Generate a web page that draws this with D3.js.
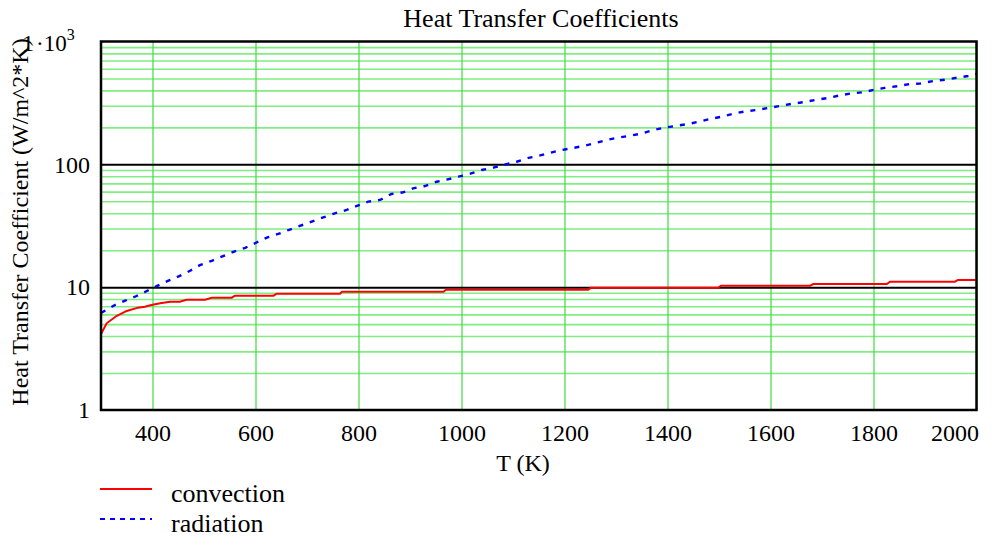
<!DOCTYPE html>
<html>
<head>
<meta charset="utf-8">
<script src="https://cdn.jsdelivr.net/npm/d3@7"></script>
<style>
  body { margin: 0; background: #fff; }
  svg { display: block; }
  svg text { font-family: "Liberation Serif", "Times New Roman", serif; fill: #000; }
</style>
</head>
<body>
<svg id="chart" width="1008" height="539"></svg>
<script>
// Convection coefficient vs temperature (stepped output of the solver)
const convT = [300, 311, 330, 350, 372, 385, 398, 415, 434, 453, 466, 502, 515, 554, 560, 635, 641, 764,
               768, 965, 970, 1246, 1251, 1498, 1504, 1677, 1683, 1826, 1832, 1958, 1964, 2000];
const convH = [4.16, 5.08, 5.82, 6.40, 6.81, 6.93, 7.16, 7.39, 7.62, 7.62, 7.91, 7.91, 8.21, 8.21, 8.52, 8.52, 8.85, 8.85,
               9.19, 9.19, 9.54, 9.54, 9.87, 9.87, 10.28, 10.28, 10.61, 10.61, 11.08, 11.08, 11.44, 11.44];

// Radiation coefficient vs temperature
const radT = [300, 327, 347, 369, 389, 408, 431, 452, 473, 492, 515, 537, 557, 580, 601, 622, 644, 664, 686, 709,
              730, 754, 777, 797, 819, 842, 864, 887, 906, 929, 952, 971, 994, 1017, 1039, 1062, 1084, 1107, 1130,
              1149, 1172, 1195, 1217, 1240, 1263, 1282, 1304, 1327, 1350, 1372, 1395, 1418, 1440, 1460, 1483, 1505,
              1531, 1554, 1573, 1596, 1619, 1644, 1667, 1686, 1709, 1732, 1754, 1779, 1803, 1822, 1845, 1871, 1890,
              1916, 1939, 1962, 1984, 2000];
const radH = [6.16, 7.16, 7.76, 8.47, 9.30, 10.2, 11.3, 12.3, 13.6, 15.1, 16.4, 17.9, 19.4, 20.9, 23.0, 25.3, 27.1,
              29.2, 31.5, 34.1, 36.8, 39.9, 42.5, 45.8, 49.7, 51.3, 57.4, 59.2, 63.8, 66.6, 72.2, 75.0, 79.3, 83.9,
              89.9, 93.9, 99.4, 105, 113, 117, 124, 131, 136, 142, 150, 158, 165, 171, 178, 190, 199, 206, 213, 222,
              234, 244, 260, 271, 277, 288, 299, 312, 322, 334, 345, 362, 376, 386, 406, 419, 432, 451, 454, 477,
              489, 507, 524, 544];

const xTicks = [400, 600, 800, 1000, 1200, 1400, 1600, 1800, 2000];
const yTicks = [1, 10, 100];
const yMajorLines = [10, 100];
const yMinorLines = [2, 3, 4, 5, 6, 7, 8, 9, 20, 30, 40, 50, 60, 70, 80, 90, 200, 300, 400, 500, 600, 700, 800, 900];
const seriesNames = ["convection", "radiation"];

const chartTitle = "Heat Transfer Coefficients";
const xTitle = "T (K)";
const yTitle = "Heat Transfer Coefficient (W/m^2*K)";

const svg = d3.select("#chart");
const L = 101, R = 976.5, T = 41.5, B = 410;

const x = d3.scaleLinear().domain([300, 2000]).range([L, R]);
const y = d3.scaleLog().domain([1, 1000]).range([B, T]);

// strip the default sans-serif that d3 axes put on their groups
const plain = g => g.attr("font-family", null).attr("font-size", null).call(s => s.select(".domain").remove());

// minor horizontal grid
svg.append("g")
  .attr("transform", `translate(${L},0)`)
  .call(d3.axisLeft(y).tickValues(yMinorLines).tickSize(-(R - L)).tickFormat(""))
  .call(plain)
  .call(g => g.selectAll("line").attr("stroke", "#80ee80").attr("stroke-width", 1.6));

// vertical grid
svg.append("g")
  .attr("transform", `translate(0,${B})`)
  .call(d3.axisBottom(x).tickValues(xTicks).tickSize(-(B - T)).tickFormat(""))
  .call(plain)
  .call(g => g.selectAll("line").attr("stroke", "#3fdc3f").attr("stroke-width", 1.2));

// decade lines
svg.append("g")
  .attr("transform", `translate(${L},0)`)
  .call(d3.axisLeft(y).tickValues(yMajorLines).tickSize(-(R - L)).tickFormat(""))
  .call(plain)
  .call(g => g.selectAll("line").attr("stroke", "#000").attr("stroke-width", 2));

// curves
const convPts = convT.map((t, i) => [t, convH[i]]);
const radPts = radT.map((t, i) => [t, radH[i]]);
const line = d3.line().x(d => x(d[0])).y(d => y(d[1]));

svg.append("path").datum(convPts).attr("d", line)
  .attr("fill", "none").attr("stroke", "#ff0000").attr("stroke-width", 2);
svg.append("path").datum(radPts).attr("d", line)
  .attr("fill", "none").attr("stroke", "#0000ff").attr("stroke-width", 2.4)
  .attr("stroke-dasharray", "5,7");

// frame
svg.append("rect").attr("x", L).attr("y", T).attr("width", R - L).attr("height", B - T)
  .attr("fill", "none").attr("stroke", "#000").attr("stroke-width", 2.5);

// x tick labels
svg.append("g")
  .attr("transform", `translate(0,${B})`)
  .call(d3.axisBottom(x).tickValues(xTicks).tickSize(0).tickPadding(0).tickFormat(d3.format("d")))
  .call(plain)
  .call(g => g.selectAll("text")
    .attr("font-size", 24)
    .attr("dy", null).attr("y", 31)
    .attr("text-anchor", d => d === 2000 ? "end" : "middle")
    .attr("dx", d => d === 2000 ? 2 : 0));

// y tick labels
svg.append("g")
  .attr("transform", `translate(${L},0)`)
  .call(d3.axisLeft(y).tickValues(yTicks).tickSize(0).tickPadding(11).tickFormat(d3.format("d")))
  .call(plain)
  .call(g => g.selectAll("text").attr("font-size", 24).attr("dy", "0.32em"));

// top decade label written as 1·10^3
svg.append("text").attr("x", 22).attr("y", y(1000) + 9).attr("font-size", 24).text("1");
const expLabel = svg.append("text")
  .attr("x", 36).attr("y", y(1000) + 9).attr("font-size", 23);
expLabel.append("tspan").text("\u00b710");
expLabel.append("tspan").attr("font-size", 16).attr("dy", -11).text("3");

// titles
svg.append("text").attr("x", 541).attr("y", 27).attr("text-anchor", "middle")
  .attr("font-size", 26).text(chartTitle);
svg.append("text").attr("x", 523).attr("y", 471).attr("text-anchor", "middle")
  .attr("font-size", 24).text(xTitle);
svg.append("text").attr("transform", "translate(28,222) rotate(-90)").attr("text-anchor", "middle")
  .attr("font-size", 24).text(yTitle);

// legend
const legend = svg.append("g");
const legendStyles = [
  { color: "#ff0000", dash: null, yLine: 489, yText: 502 },
  { color: "#0000ff", dash: "5,5", yLine: 519, yText: 532 }
];
seriesNames.forEach((name, i) => {
  const s = legendStyles[i];
  legend.append("line").attr("x1", 100).attr("x2", 152).attr("y1", s.yLine).attr("y2", s.yLine)
    .attr("stroke", s.color).attr("stroke-width", 2).attr("stroke-dasharray", s.dash);
  legend.append("text").attr("x", 171).attr("y", s.yText)
    .attr("font-size", 26).text(name);
});
</script>
</body>
</html>
